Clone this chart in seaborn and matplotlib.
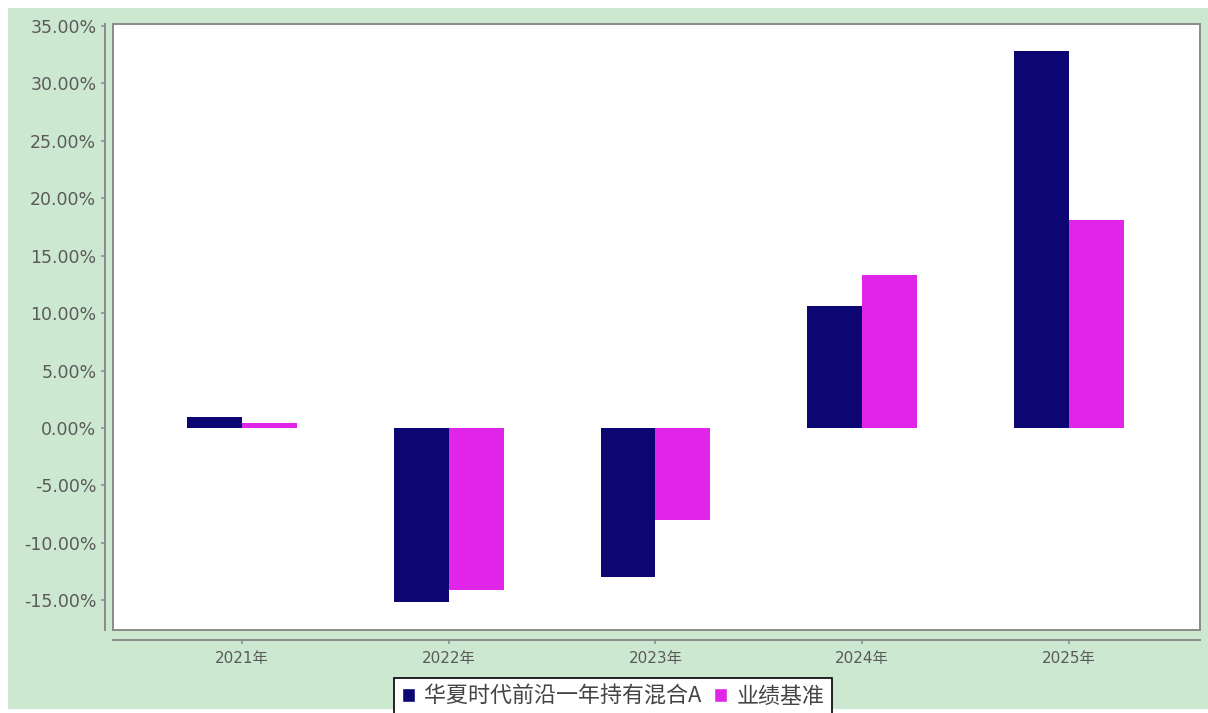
import pandas as pd
import seaborn as sns
import matplotlib.pyplot as plt
from matplotlib.patches import Rectangle, Patch
from matplotlib.ticker import FuncFormatter

# data (percent)
years = ['2021年', '2022年', '2023年', '2024年', '2025年']
fund_name = '华夏时代前沿一年持有混合A'
bench_name = '业绩基准'
fund_returns = [0.93, -15.15, -12.97, 10.62, 32.82]
bench_returns = [0.45, -14.10, -8.01, 13.32, 18.11]

colors = {fund_name: '#0b0672', bench_name: '#e025e8'}
bg_green = '#cde8d0'
grey = '#8a8a8a'
text_grey = '#5a5a5a'

df = pd.DataFrame({
    'year': years * 2,
    'series': [fund_name] * len(years) + [bench_name] * len(years),
    'value': fund_returns + bench_returns,
})

sns.set_style("white")
plt.rcParams['font.family'] = ['DejaVu Sans', 'Noto Sans CJK SC']

W, H = 1208, 713
fig = plt.figure(figsize=(W / 100, H / 100), dpi=100, facecolor='white')
# green panel behind everything, thin white margin top/left
fig.patches.append(Rectangle((8 / W, 1 - 709 / H), 1, (709 - 8) / H,
                             transform=fig.transFigure, facecolor=bg_green,
                             edgecolor='none', zorder=-10))

ax = fig.add_axes([113 / W, 1 - 630 / H, (1200 - 113) / W, (630 - 24) / H])
ax.set_facecolor('white')

sns.barplot(data=df, x='year', y='value', hue='series', palette=colors,
            width=0.53, linewidth=0, saturation=1, legend=False, ax=ax)

ax.set_xlim(-0.624, 4.634)
ax.set_ylim(-17.59, 35.17)
ax.set_yticks(range(-15, 36, 5))
ax.yaxis.set_major_formatter(FuncFormatter(lambda v, p: f'{v:.2f}%'))
ax.set_xlabel('')
ax.set_ylabel('')

# detached axis lines like the original
for side in ['top', 'right']:
    ax.spines[side].set_visible(False)
ax.spines['left'].set_position(('outward', 6))
ax.spines['bottom'].set_position(('outward', 7))
for side in ['left', 'bottom']:
    ax.spines[side].set_color(grey)
    ax.spines[side].set_linewidth(1.4)
ax.add_patch(Rectangle((0, 0), 1, 1, transform=ax.transAxes, fill=False,
                       edgecolor=grey, linewidth=1.4, clip_on=False, zorder=5))

ax.tick_params(axis='y', direction='out', length=3, width=1.1, color=grey,
               pad=3, labelsize=12.5, labelcolor=text_grey, left=True)
ax.tick_params(axis='x', direction='out', length=3, width=1.1, color=grey,
               pad=5, labelsize=11, labelcolor=text_grey, bottom=True)

handles = [Patch(facecolor=colors[fund_name], label=fund_name),
           Patch(facecolor=colors[bench_name], label=bench_name)]
leg = fig.legend(handles=handles, loc='upper center',
                 bbox_to_anchor=(613 / W, 1 - 678 / H), ncol=2,
                 frameon=True, fancybox=False, edgecolor='black',
                 facecolor='white', framealpha=1, handlelength=0.6,
                 handleheight=0.6, handletextpad=0.4, columnspacing=0.6,
                 borderpad=0.35, borderaxespad=0,
                 prop={'family': ['Noto Sans CJK SC', 'DejaVu Sans'], 'size': 15.8})
leg.get_frame().set_linewidth(1.2)
for t in leg.get_texts():
    t.set_color('#444444')

fig.savefig('out.png', dpi=100, facecolor=fig.get_facecolor())
